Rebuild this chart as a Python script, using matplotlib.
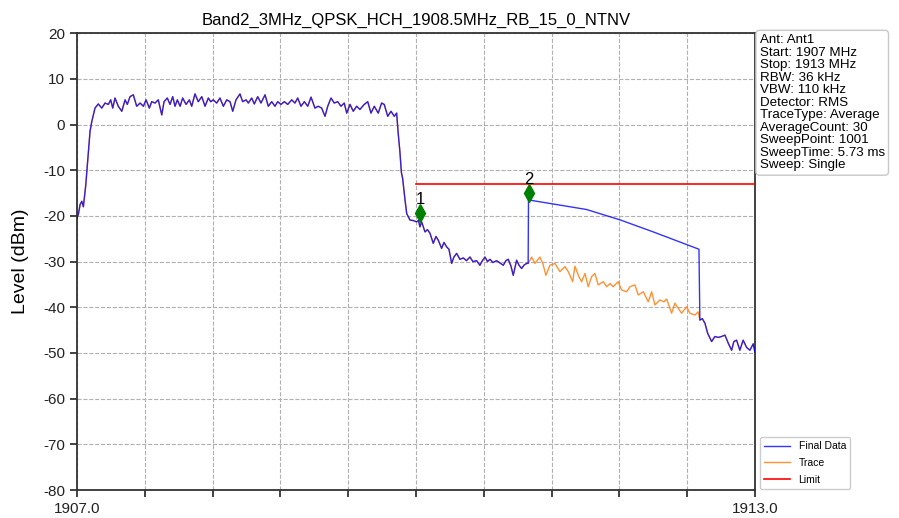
import matplotlib
matplotlib.use("Agg")
import matplotlib.pyplot as plt
import numpy as np

plt.rcParams['font.family'] = ['Liberation Sans', 'DejaVu Sans']
plt.rcParams['axes.unicode_minus'] = False

title = "Band2_3MHz_QPSK_HCH_1908.5MHz_RB_15_0_NTNV"

# trace (MHz, dBm)
trace_freq = [
    1907.000, 1907.013, 1907.027, 1907.042, 1907.056, 1907.077, 1907.100, 1907.115,
    1907.130, 1907.159, 1907.188, 1907.219, 1907.248, 1907.277, 1907.298, 1907.316,
    1907.336, 1907.365, 1907.396, 1907.425, 1907.445, 1907.469, 1907.498, 1907.528,
    1907.558, 1907.587, 1907.611, 1907.640, 1907.661, 1907.690, 1907.719, 1907.750,
    1907.770, 1907.799, 1907.823, 1907.847, 1907.867, 1907.888, 1907.912, 1907.935,
    1907.965, 1907.994, 1908.015, 1908.044, 1908.073, 1908.104, 1908.133, 1908.162,
    1908.183, 1908.206, 1908.236, 1908.265, 1908.295, 1908.325, 1908.354, 1908.378,
    1908.407, 1908.442, 1908.466, 1908.496, 1908.516, 1908.546, 1908.569, 1908.599,
    1908.628, 1908.664, 1908.693, 1908.723, 1908.752, 1908.776, 1908.805, 1908.835,
    1908.865, 1908.900, 1908.929, 1908.953, 1908.982, 1909.012, 1909.042, 1909.071,
    1909.106, 1909.135, 1909.165, 1909.195, 1909.219, 1909.248, 1909.277, 1909.307,
    1909.336, 1909.365, 1909.387, 1909.416, 1909.445, 1909.475, 1909.504, 1909.542,
    1909.573, 1909.602, 1909.631, 1909.666, 1909.696, 1909.719, 1909.750, 1909.779,
    1909.808, 1909.829, 1909.843, 1909.858, 1909.871, 1909.882, 1909.903, 1909.918,
    1909.947, 1909.973, 1910.006, 1910.022, 1910.035, 1910.050, 1910.080, 1910.102,
    1910.124, 1910.153, 1910.177, 1910.197, 1910.227, 1910.248, 1910.272, 1910.292,
    1910.316, 1910.336, 1910.360, 1910.389, 1910.419, 1910.447, 1910.478, 1910.504,
    1910.537, 1910.566, 1910.588, 1910.611, 1910.633, 1910.655, 1910.681, 1910.714,
    1910.743, 1910.773, 1910.796, 1910.817, 1910.841, 1910.861, 1910.891, 1910.912,
    1910.935, 1910.956, 1910.979, 1910.993,
    1911.024, 1911.053, 1911.097, 1911.124, 1911.150, 1911.186, 1911.230, 1911.274,
    1911.319, 1911.348, 1911.387, 1911.407, 1911.442, 1911.466, 1911.496, 1911.525,
    1911.555, 1911.584, 1911.613, 1911.658, 1911.688, 1911.717, 1911.746, 1911.790,
    1911.820, 1911.865, 1911.894, 1911.938, 1911.967, 1912.012, 1912.056, 1912.086,
    1912.115, 1912.159, 1912.195, 1912.219, 1912.263, 1912.292, 1912.322, 1912.351,
    1912.396, 1912.425, 1912.469, 1912.498,
    1912.513, 1912.535, 1912.558, 1912.582, 1912.617, 1912.646, 1912.675, 1912.705,
    1912.735, 1912.765, 1912.794, 1912.814, 1912.838, 1912.867, 1912.896, 1912.927,
    1912.956, 1912.985, 1913.000,
]
trace_level = [
    -20.5, -19.5, -17.5, -16.8, -18.0, -13.3, -6.0, -1.5,
    0.6, 3.6, 4.5, 3.6, 4.7, 4.4, 5.4, 3.6,
    5.8, 4.0, 2.9, 5.4, 4.4, 6.1, 6.5, 4.0,
    4.7, 4.0, 5.4, 3.6, 5.0, 4.7, 5.4, 2.1,
    5.0, 5.8, 4.4, 6.1, 4.0, 5.4, 4.0, 5.8,
    4.4, 5.4, 4.0, 6.7, 5.0, 6.1, 4.0, 5.8,
    5.0, 5.4, 4.7, 5.8, 4.0, 5.4, 5.0, 2.9,
    5.4, 6.7, 5.0, 5.4, 4.7, 5.8, 4.5, 6.1,
    4.7, 6.5, 4.0, 5.0, 4.0, 5.0, 4.4, 5.0,
    4.4, 5.4, 4.7, 5.8, 4.0, 5.0, 4.0, 6.0,
    3.6, 4.0, 3.6, 1.8, 4.0, 5.8, 4.7, 5.0,
    4.0, 4.7, 2.5, 4.4, 2.9, 4.0, 3.3, 4.4,
    5.0, 2.5, 4.0, 2.5, 4.7, 4.4, 1.8, 2.9,
    1.8, 2.5, -2.0, -6.0, -10.5, -11.8, -16.5, -19.5,
    -20.9, -21.0, -21.3, -21.0, -22.4, -21.3, -23.5, -23.0,
    -23.8, -26.0, -24.5, -25.3, -27.1, -25.8, -26.8, -27.3,
    -30.4, -29.0, -28.2, -29.5, -29.2, -29.8, -29.0, -30.0,
    -29.8, -30.8, -29.8, -29.0, -30.0, -29.5, -30.2, -29.8,
    -30.3, -30.8, -29.8, -29.5, -31.0, -33.0, -29.7, -30.8,
    -31.5, -30.8, -30.4, -30.4,
    -29.0, -30.4, -29.0, -30.5, -33.0, -30.8, -30.4, -32.2,
    -31.1, -32.2, -34.4, -31.0, -33.3, -34.4, -32.6, -35.5,
    -33.3, -32.6, -35.1, -34.4, -35.5, -34.8, -35.5, -34.4,
    -36.2, -36.6, -35.5, -35.1, -37.3, -36.6, -38.8, -36.6,
    -39.5, -38.4, -38.8, -38.2, -41.3, -39.1, -40.2, -41.3,
    -39.9, -41.3, -41.7, -41.0,
    -42.8, -42.5, -43.5, -45.7, -47.5, -46.4, -46.6, -46.4,
    -46.1, -47.9, -49.4, -47.5, -47.2, -49.4, -47.2, -48.8,
    -49.4, -48.0, -49.8,
]

# held segment where Final Data departs from the trace
hold_freq = [1910.996, 1911.51, 1911.81, 1912.10, 1912.505]
hold_level = [-16.5, -18.6, -20.9, -23.5, -27.3]

limit_freq = [1910.0, 1913.0]
limit_level = [-13.0, -13.0]

marker_freq = [1910.04, 1911.0]
marker_level = [-19.3, -14.9]
marker_names = ["1", "2"]

info_lines = [
    "Ant: Ant1",
    "Start: 1907 MHz",
    "Stop: 1913 MHz",
    "RBW: 36 kHz",
    "VBW: 110 kHz",
    "Detector: RMS",
    "TraceType: Average",
    "AverageCount: 30",
    "SweepPoint: 1001",
    "SweepTime: 5.73 ms",
    "Sweep: Single",
]

tf = np.array(trace_freq)
tl = np.array(trace_level)
before = tf < hold_freq[0]
after = tf > hold_freq[-1]
final_freq = np.concatenate([tf[before], hold_freq, tf[after]])
final_level = np.concatenate([tl[before], hold_level, tl[after]])

fig = plt.figure(figsize=(8.99, 5.18), dpi=100)
ax = fig.add_axes([0.0857, 0.054, 0.754, 0.882])

ax.plot(tf, tl, color="#ff7f0e", lw=1, alpha=0.85, label="Trace", zorder=2)
ax.plot(final_freq, final_level, color="blue", lw=1, alpha=0.8,
        label="Final Data", zorder=3)
ax.plot(limit_freq, limit_level, color="red", lw=1.2, label="Limit", zorder=3)

ax.plot(marker_freq, marker_level, "d", color="green", markersize=9, zorder=4)
for f, l, n in zip(marker_freq, marker_level, marker_names):
    ax.text(f, l + 2.8, n, ha="center", va="center", fontsize=12, zorder=5)

ax.set_xlim(1907, 1913)
ax.set_ylim(-80, 20)
xt = np.linspace(1907, 1913, 11)
ax.set_xticks(xt)
ax.set_xticklabels(["1907.0"] + [""] * 9 + ["1913.0"])
ax.set_yticks(np.arange(-80, 21, 10))
ax.tick_params(direction="out", length=5, width=1.2, labelsize=11, colors="#222222")
ax.grid(True, ls="--", color="#b0b0b0", lw=0.8)
for s in ax.spines.values():
    s.set_color("#333333")
    s.set_linewidth(1.3)

ax.set_title(title, fontsize=12)
ax.set_ylabel("Level (dBm)", fontsize=14, labelpad=10)

ax.text(1.007, 0.998, "\n".join(info_lines), transform=ax.transAxes,
        ha="left", va="top", fontsize=9.6, linespacing=1.06,
        bbox=dict(boxstyle="round,pad=0.28", fc="white", ec="#c8c8c8"))

handles, labels = ax.get_legend_handles_labels()
order = [1, 0, 2]
ax.legend([handles[i] for i in order], [labels[i] for i in order],
          loc="lower left", bbox_to_anchor=(1.006, 0.0), fontsize=7.5,
          borderaxespad=0.1, handlelength=2.5, labelspacing=0.65, framealpha=1)

fig.savefig("out.png", dpi=100)
